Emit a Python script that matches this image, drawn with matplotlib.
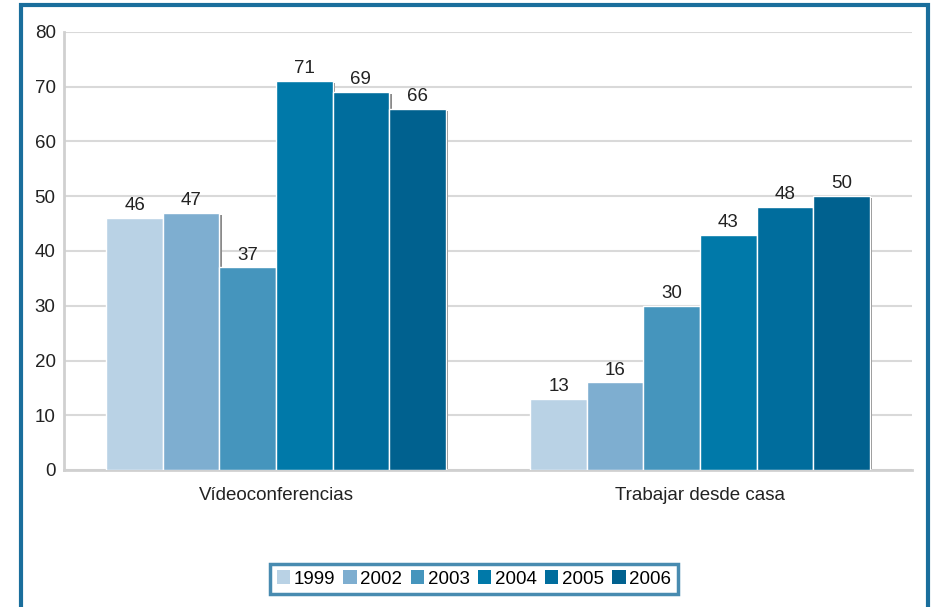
import matplotlib
matplotlib.use("Agg")
import matplotlib.pyplot as plt
from matplotlib.patches import Rectangle
import numpy as np

categories = ["Vídeoconferencias", "Trabajar desde casa"]
years = ["1999", "2002", "2003", "2004", "2005", "2006"]
values = {
    "1999": [46, 13],
    "2002": [47, 16],
    "2003": [37, 30],
    "2004": [71, 43],
    "2005": [69, 48],
    "2006": [66, 50],
}
colors = ["#b9d2e5", "#7eaed0", "#4595bd", "#0079a9", "#006d9d", "#00618f"]
yticks = [0, 10, 20, 30, 40, 50, 60, 70, 80]

plt.rcParams["font.family"] = ["Liberation Sans", "DejaVu Sans"]
FS = 13.5

fig = plt.figure(figsize=(9.32, 6.07), dpi=100)
W, H = 932, 607
ax = fig.add_axes([64 / W, 1 - 470 / H, (912 - 64) / W, (470 - 32) / H])

x = np.arange(len(categories))
n = len(years)
bw = 0.8 / n
for i, (yr, c) in enumerate(zip(years, colors)):
    pos = x - 0.4 + bw * (i + 0.5)
    vals = values[yr]
    ax.bar(pos + 0.006, np.array(vals) - 0.4, width=bw, color="#8a8a8a",
           edgecolor="none", zorder=2)
    ax.bar(pos, vals, width=bw, color=c, edgecolor="white", linewidth=1,
           zorder=3, label=yr)
    for p, v in zip(pos, vals):
        ax.text(p, v + 0.7, str(v), ha="center", va="bottom", fontsize=FS,
                color="#222222", zorder=4)

ax.set_xlim(-0.5, 1.5)
ax.set_ylim(0, 80)
ax.set_yticks(yticks)
ax.set_yticklabels([str(t) for t in yticks])
ax.set_xticks(x)
ax.set_xticklabels(categories)
ax.tick_params(axis="both", length=0, labelsize=FS, colors="#222222")
ax.tick_params(axis="y", pad=6)
ax.tick_params(axis="x", pad=12)
ax.yaxis.grid(True, color="#d9d9d9", linewidth=1.5, zorder=0)
ax.set_axisbelow(True)
for s in ["top", "right"]:
    ax.spines[s].set_visible(False)
for s in ["left", "bottom"]:
    ax.spines[s].set_color("#d0d0d0")
    ax.spines[s].set_linewidth(2)

leg = ax.legend(loc="center", bbox_to_anchor=(474 / W, 1 - 579 / H),
                bbox_transform=fig.transFigure, ncol=6, frameon=True,
                fontsize=FS, handlelength=0.7, handleheight=0.7,
                handletextpad=0.2, columnspacing=0.45, borderpad=0.35,
                fancybox=False)
leg.get_frame().set_edgecolor("#1a6e9c")
leg.get_frame().set_linewidth(2.5)
for h in leg.legend_handles:
    h.set_edgecolor("none")

frame = Rectangle((21 / W, -0.1), (928 - 21) / W, 1.1 - 5 / H,
                  transform=fig.transFigure, fill=False,
                  edgecolor="#1a6e9c", linewidth=3, clip_on=False)
fig.patches.append(frame)

fig.savefig("out.png", dpi=100)
